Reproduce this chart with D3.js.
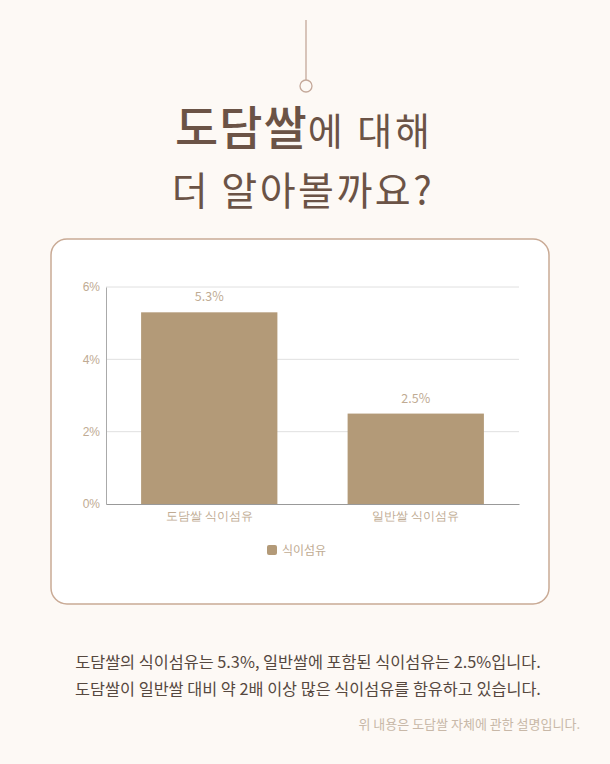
<!DOCTYPE html>
<html>
<head>
<meta charset="utf-8">
<script src="https://cdn.jsdelivr.net/npm/d3@7"></script>
<style>
  html, body { margin: 0; padding: 0; background: #fdf9f5; }
  svg { display: block; font-family: "Noto Sans CJK KR", "Noto Sans", sans-serif; }
</style>
</head>
<body>
<div id="chart_container"></div>
<script>
// chart data
const CATEGORIES = ["도담쌀 식이섬유", "일반쌀 식이섬유"];
const VALUES = [5.3, 2.5];
const Y_TICKS = [0, 2, 4, 6];
const SERIES_NAME = "식이섬유";

const W = 610;
const H = 764;
const BAR_COLOR = "#b39a78";
const LABEL_COLOR = "#c0ab93";

const svg = d3
  .select("#chart_container")
  .append("svg")
  .attr("width", W)
  .attr("height", H);

svg.append("rect").attr("width", W).attr("height", H).attr("fill", "#fdf9f5");

// hanging pin
svg.append("line")
  .attr("x1", 306).attr("x2", 306).attr("y1", 20).attr("y2", 80)
  .attr("stroke", "#c4a899").attr("stroke-width", 1.3);
svg.append("circle")
  .attr("cx", 306).attr("cy", 86).attr("r", 6)
  .attr("fill", "#fdf9f5").attr("stroke", "#c4a899").attr("stroke-width", 1.3);

// title
const title1 = svg.append("text")
  .attr("x", 304).attr("y", 145)
  .attr("text-anchor", "middle")
  .attr("fill", "#6b5346");
title1.append("tspan").text("도담쌀").style("font-size", "47px").style("font-weight", "500")
  .style("letter-spacing", "1px");
title1.append("tspan").text("에 대해").style("font-size", "38px").style("font-weight", "400")
  .style("letter-spacing", "3px");

svg.append("text")
  .attr("x", 303).attr("y", 205)
  .attr("text-anchor", "middle")
  .attr("fill", "#6b5346")
  .style("font-size", "39px").style("font-weight", "400")
  .style("letter-spacing", "2.5px")
  .text("더 알아볼까요?");

// card
svg.append("rect")
  .attr("x", 51).attr("y", 239).attr("width", 498).attr("height", 365)
  .attr("rx", 16)
  .attr("fill", "#ffffff").attr("stroke", "#c9aa95").attr("stroke-width", 1.5);

// plot area
const plot = { left: 106, right: 519, top: 287, bottom: 504 };

const x = d3.scaleBand()
  .domain(CATEGORIES)
  .range([plot.left, plot.right])
  .paddingInner(0.34)
  .paddingOuter(0.17);

const y = d3.scaleLinear()
  .domain([0, 6])
  .range([plot.bottom, plot.top]);

// gridlines
svg.append("g")
  .selectAll("line")
  .data(Y_TICKS.filter((t) => t > 0))
  .enter()
  .append("line")
  .attr("x1", plot.left).attr("x2", plot.right)
  .attr("y1", (d) => y(d)).attr("y2", (d) => y(d))
  .attr("stroke", "#e0e0e0").attr("stroke-width", 1);

// y axis
const yAxis = svg.append("g")
  .attr("transform", `translate(${plot.left},0)`)
  .call(d3.axisLeft(y).tickValues(Y_TICKS).tickSize(0).tickPadding(6).tickFormat((d) => d + "%"));
yAxis.select(".domain").attr("stroke", "#aaaaaa");
yAxis.selectAll("text").attr("fill", LABEL_COLOR).style("font-size", "12px");

// bars
svg.append("g")
  .selectAll("rect")
  .data(VALUES)
  .enter()
  .append("rect")
  .attr("x", (d, i) => x(CATEGORIES[i]))
  .attr("width", x.bandwidth())
  .attr("y", (d) => y(d))
  .attr("height", (d) => y(0) - y(d))
  .attr("fill", BAR_COLOR);

// value labels
svg.append("g")
  .selectAll("text")
  .data(VALUES)
  .enter()
  .append("text")
  .attr("x", (d, i) => x(CATEGORIES[i]) + x.bandwidth() / 2)
  .attr("y", (d) => y(d) - 11)
  .attr("text-anchor", "middle")
  .attr("fill", LABEL_COLOR)
  .style("font-size", "12.5px")
  .text((d) => d + "%");

// x axis
const xAxis = svg.append("g")
  .attr("transform", `translate(0,${plot.bottom})`)
  .call(d3.axisBottom(x).tickSize(0).tickPadding(8));
xAxis.select(".domain").attr("stroke", "#999999").attr("stroke-width", 1.2);
xAxis.selectAll("text").attr("fill", LABEL_COLOR).style("font-size", "11.5px");

// legend
const legend = svg.append("g").attr("transform", "translate(267,545)");
legend.append("rect")
  .attr("width", 10).attr("height", 10).attr("rx", 2)
  .attr("fill", BAR_COLOR);
legend.append("text")
  .attr("x", 15).attr("y", 9.5)
  .attr("fill", LABEL_COLOR)
  .style("font-size", "12px")
  .text(SERIES_NAME);

// description
svg.append("text")
  .attr("x", 308).attr("y", 668)
  .attr("text-anchor", "middle")
  .attr("fill", "#56483f")
  .style("font-size", "16.3px")
  .text("도담쌀의 식이섬유는 5.3%, 일반쌀에 포함된 식이섬유는 2.5%입니다.");
svg.append("text")
  .attr("x", 308).attr("y", 695)
  .attr("text-anchor", "middle")
  .attr("fill", "#56483f")
  .style("font-size", "16.3px")
  .text("도담쌀이 일반쌀 대비 약 2배 이상 많은 식이섬유를 함유하고 있습니다.");
svg.append("text")
  .attr("x", 580).attr("y", 729)
  .attr("text-anchor", "end")
  .attr("fill", "#c8b8a8")
  .style("font-size", "13px")
  .text("위 내용은 도담쌀 자체에 관한 설명입니다.");
</script>
</body>
</html>
